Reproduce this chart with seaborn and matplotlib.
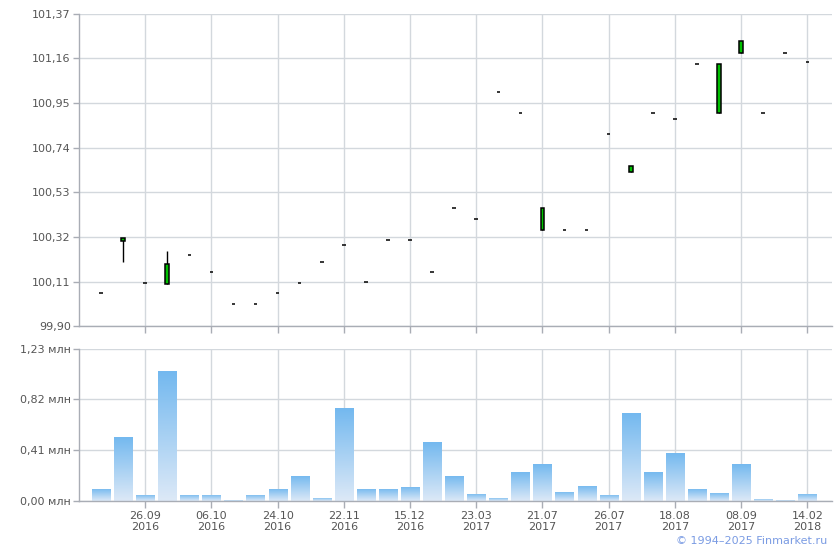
import numpy as np
import pandas as pd
import seaborn as sns
import matplotlib.pyplot as plt
from matplotlib.colors import LinearSegmentedColormap

# ================= DATA =================
idx = list(range(33))
open_ = [100.054, 100.300, 100.101, 100.099, 100.233, 100.153, 100.004, 100.004, 100.054,
         100.101, 100.204, 100.280, 100.110, 100.304, 100.304, 100.153, 100.455, 100.403,
         101.001, 100.902, 100.351, 100.351, 100.351, 100.803, 100.625, 100.902, 100.874,
         101.133, 100.902, 101.185, 100.902, 101.185, 101.143]
close = [100.054, 100.313, 100.101, 100.191, 100.233, 100.153, 100.004, 100.004, 100.054,
         100.101, 100.204, 100.280, 100.110, 100.304, 100.304, 100.153, 100.455, 100.403,
         101.001, 100.902, 100.455, 100.351, 100.351, 100.803, 100.653, 100.902, 100.874,
         101.133, 101.133, 101.242, 100.902, 101.185, 101.143]
high = [100.054, 100.313, 100.101, 100.253, 100.233, 100.153, 100.004, 100.004, 100.054,
        100.101, 100.204, 100.280, 100.110, 100.304, 100.304, 100.153, 100.455, 100.403,
        101.001, 100.902, 100.455, 100.351, 100.351, 100.803, 100.653, 100.902, 100.874,
        101.133, 101.133, 101.242, 100.902, 101.185, 101.143]
low = [100.054, 100.203, 100.101, 100.099, 100.233, 100.153, 100.004, 100.004, 100.054,
       100.101, 100.204, 100.280, 100.110, 100.304, 100.304, 100.153, 100.455, 100.403,
       101.001, 100.902, 100.351, 100.351, 100.351, 100.803, 100.625, 100.902, 100.874,
       101.133, 100.902, 101.185, 100.902, 101.185, 101.143]
volume = [0.10, 0.52, 0.05, 1.05, 0.05, 0.05, 0.011, 0.05, 0.10, 0.205, 0.027, 0.755,
          0.10, 0.10, 0.116, 0.48, 0.205, 0.059, 0.027, 0.237, 0.302, 0.075, 0.124,
          0.051, 0.714, 0.237, 0.39, 0.10, 0.067, 0.302, 0.019, 0.011, 0.059]

tick_pos = [2, 5, 8, 11, 14, 17, 20, 23, 26, 29, 32]
tick_labels = ["26.09\n2016", "06.10\n2016", "24.10\n2016", "22.11\n2016", "15.12\n2016",
               "23.03\n2017", "21.07\n2017", "26.07\n2017", "18.08\n2017", "08.09\n2017",
               "14.02\n2018"]
price_ticks = [99.90, 100.11, 100.32, 100.53, 100.74, 100.95, 101.16, 101.37]
vol_ticks = [0.0, 0.41, 0.82, 1.23]

GRID = "#d3d8dd"
AXIS = "#a9adb5"
TEXT = "#555555"

sns.set_theme(style="white")
plt.rcParams['font.family'] = ['DejaVu Sans']

fig = plt.figure(figsize=(8.4, 5.5), dpi=100)
ax1 = fig.add_axes([0.094, 0.407, 0.896, 0.568])
ax2 = fig.add_axes([0.094, 0.089, 0.896, 0.277])

# ================= PRICE PANEL =================
o = np.array(open_)
c = np.array(close)
ax1.vlines(idx, low, high, color="black", lw=1, zorder=3)
bottoms = np.minimum(o, c)
heights = np.abs(c - o)
ax1.bar(idx, heights, bottom=bottoms, width=0.16, color="#00c000",
        edgecolor="black", linewidth=1.1, zorder=4)

ax1.set_ylim(99.90, 101.37)
ax1.set_yticks(price_ticks)
ax1.set_yticklabels([f"{v:.2f}".replace(".", ",") for v in price_ticks])
ax1.set_xticks(tick_pos)
ax1.set_xticklabels([])

# ================= VOLUME PANEL =================
df = pd.DataFrame({"idx": idx, "vol": volume})
sns.barplot(data=df, x="idx", y="vol", width=0.82, color="#8fc6f2",
            saturation=1, ax=ax2, zorder=2)
cmap = LinearSegmentedColormap.from_list("vol", ["#dde9f7", "#72b8ef"])
grad = np.linspace(0, 1, 256).reshape(-1, 1)
for p in ax2.patches:
    x0, y0 = p.get_x(), p.get_y()
    w, h = p.get_width(), p.get_height()
    im = ax2.imshow(grad, cmap=cmap, origin="lower", aspect="auto",
                    extent=[x0, x0 + w, y0, y0 + h], zorder=2.5)
    im.set_clip_path(p)
    p.set_facecolor("none")
    p.set_linewidth(0)

ax2.set_ylim(0, 1.23)
ax2.set_yticks(vol_ticks)
ax2.set_yticklabels([f"{v:.2f}".replace(".", ",") + " млн" for v in vol_ticks])
ax2.set_xticks(tick_pos)
ax2.set_xticklabels(tick_labels)
ax2.set_xlabel("")
ax2.set_ylabel("")

for ax in (ax1, ax2):
    ax.set_xlim(-1, 33.1)
    ax.grid(True, color=GRID, lw=1)
    ax.set_axisbelow(True)
    for s in ("top", "right"):
        ax.spines[s].set_visible(False)
    for s in ("left", "bottom"):
        ax.spines[s].set_color(AXIS)
        ax.spines[s].set_linewidth(1)
    ax.tick_params(axis="both", which="both", length=5, width=1, color=AXIS,
                   labelsize=8, labelcolor=TEXT, pad=2, bottom=True, left=True)
    ax.tick_params(axis="y", length=4)

fig.text(0.985, 0.008, "© 1994–2025 Finmarket.ru", ha="right", va="bottom",
         fontsize=8, color="#7a9be3")

fig.savefig("out.png", dpi=100)
